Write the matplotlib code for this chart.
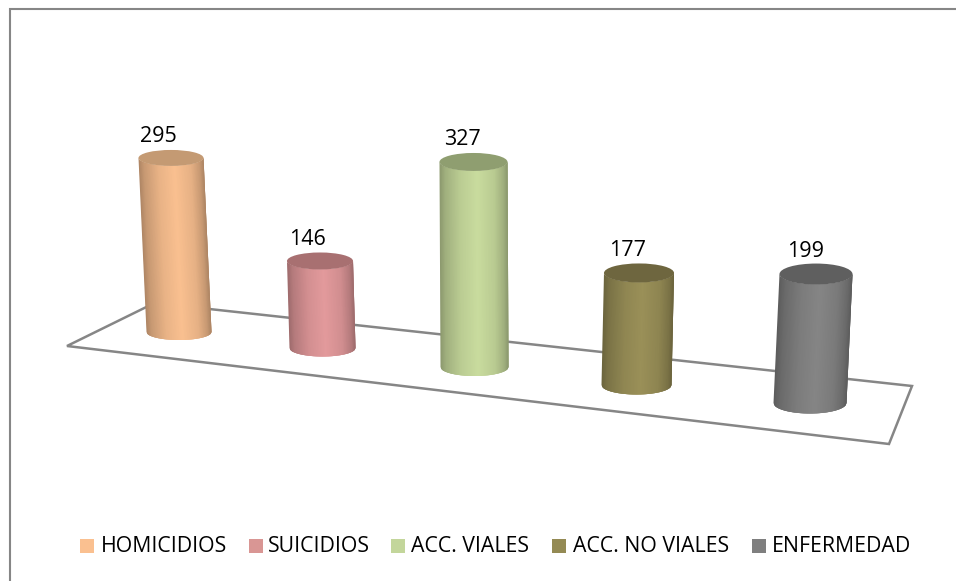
import numpy as np
import matplotlib
matplotlib.use('Agg')
import matplotlib.pyplot as plt
from matplotlib.colors import to_rgb
from matplotlib.patches import Ellipse, Polygon

categories = ['HOMICIDIOS', 'SUICIDIOS', 'ACC. VIALES', 'ACC. NO VIALES', 'ENFERMEDAD']
values = [295, 146, 327, 177, 199]

colors = ['#FAC090', '#E39A9C', '#C9DC9E', '#9A9058', '#858585']
legend_colors = ['#FAC090', '#D99694', '#C3D69B', '#948A54', '#7F7F7F']
top_colors = ['#C49A73', '#A87071', '#8F9E70', '#6E663F', '#5F5F5F']

# perspective layout, all in image pixels
base_x = [179, 322.5, 474.5, 636.5, 810]
base_y = [332, 348, 367, 385, 403]
radius_x = [32.5, 33, 34, 35, 36.5]
radius_y = [8, 8.5, 9, 9.5, 10.5]
px_per_unit = [0.59, 0.596, 0.627, 0.633, 0.648]
lean = [-8, -2.5, -1, 2.5, 6]
label_x = [158, 307, 462, 628, 806]
label_y = [136.5, 239.5, 139.5, 250.5, 251.5]

legend_box_x = [80, 249, 391, 552, 752]
legend_text_x = [100.5, 268, 411, 573, 771.5]

# brightness across the cylinder, left edge to right edge
shade_u = [0.0, 0.08, 0.3, 0.55, 0.8, 0.93, 1.0]
shade_v = [0.70, 0.80, 0.93, 1.0, 0.92, 0.80, 0.68]

plt.rcParams['font.family'] = ['Open Sans', 'DejaVu Sans']

fig = plt.figure(figsize=(9.56, 5.81), dpi=100)
ax = fig.add_axes([0, 0, 1, 1])
ax.set_xlim(0, 956)
ax.set_ylim(581, 0)
ax.axis('off')

# only the top and left edges of the frame show
ax.plot([10, 10, 956], [581, 8.5, 8.5], color='#868686', lw=1.5, solid_joinstyle='miter')

floor = [(67, 346), (154.5, 303), (912, 386), (889, 444)]
ax.add_patch(Polygon(floor, closed=True, fill=False, ec='#868686', lw=1.8, zorder=1))

n = 90
u = np.linspace(0, 1, n)
c = 2 * u - 1
arc = np.sqrt(1 - c ** 2)
shade = np.interp(u, shade_u, shade_v)

for i in range(len(values)):
    h = values[i] * px_per_unit[i]
    top_x = base_x[i] + lean[i]
    top_y = base_y[i] - h
    rx = radius_x[i]
    ry = radius_y[i]

    # overlapping strips so no seams show between the colours
    xt = top_x + rx * c
    yt = top_y + ry * arc
    xb = base_x[i] + rx * c
    yb = base_y[i] + ry * arc
    col = np.array(to_rgb(colors[i]))
    for j in range(n - 1):
        k = min(j + 4, n)
        pts = np.vstack([np.column_stack([xt[j:k], yt[j:k]]),
                         np.column_stack([xb[j:k][::-1], yb[j:k][::-1]])])
        ax.add_patch(Polygon(pts, closed=True, fc=np.clip(col * shade[j], 0, 1), ec='none', zorder=2))
    ax.add_patch(Ellipse((top_x, top_y), 2 * rx, 2 * ry, fc=top_colors[i], ec='none', zorder=3))
    ax.text(label_x[i], label_y[i], str(values[i]), fontsize=15.5, ha='center', va='center',
            color='black', zorder=4)

for i in range(len(categories)):
    ax.add_patch(plt.Rectangle((legend_box_x[i], 539), 14, 14, fc=legend_colors[i], ec='none'))
    ax.text(legend_text_x[i], 546.5, categories[i], fontsize=15.3, ha='left', va='center', color='black')

plt.savefig('out.png', dpi=100)
